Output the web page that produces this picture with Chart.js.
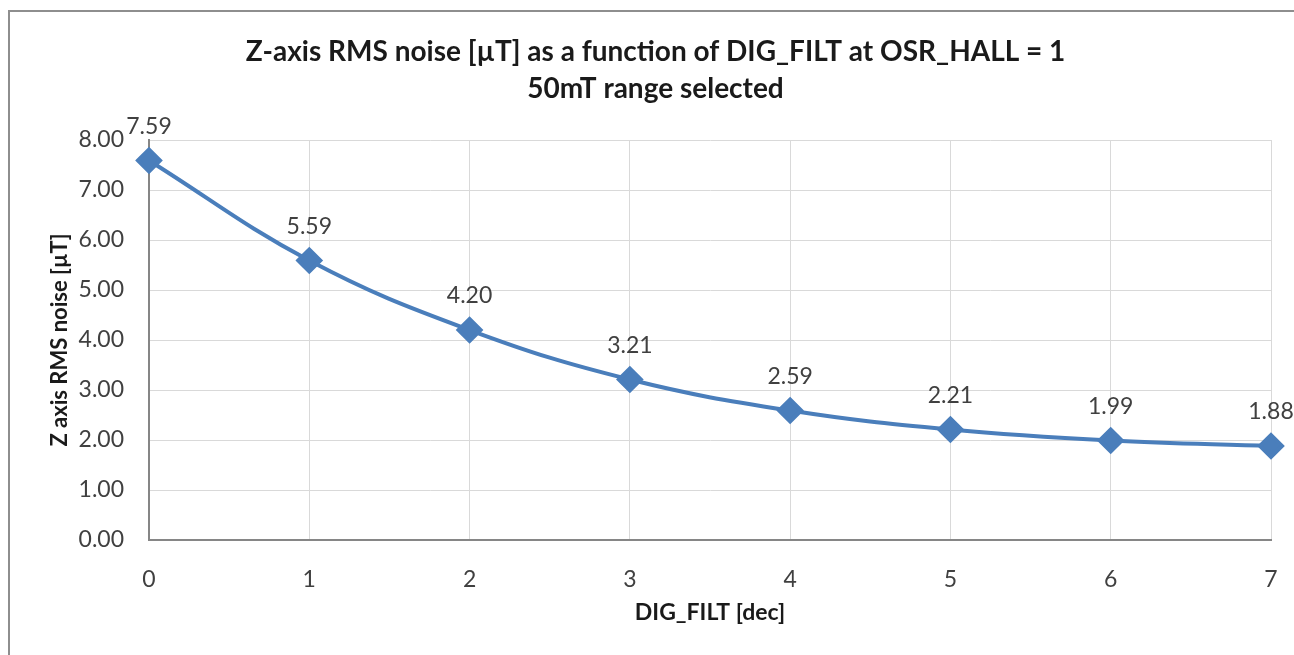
<!doctype html>
<html><head>
<meta charset="utf-8">
<title>Z-axis RMS noise</title>
<script src="https://cdn.jsdelivr.net/npm/chart.js"></script>
<style>
  body { margin: 0; background: #fff; overflow: hidden; }
  #frame { position: absolute; left: 8px; top: 10px; width: 1400px; height: 800px; border: 2px solid #8e8e8e; }
  #myChart { position: absolute; left: 0; top: 0; }
</style>
</head>
<body>
<div id="frame"></div>
<canvas id="myChart" width="1294" height="655"></canvas>
<script>
// datos
const digFilt = [0, 1, 2, 3, 4, 5, 6, 7];
const rmsNoise = [7.59, 5.59, 4.20, 3.21, 2.59, 2.21, 1.99, 1.88];
const yTicks = [0, 1, 2, 3, 4, 5, 6, 7, 8];

const FONT = 'Lato, "Open Sans", sans-serif';

// etiquetas de valor encima de cada punto
const etiquetas = {
  id: 'etiquetas',
  afterDatasetsDraw(chart) {
    const ctx = chart.ctx;
    const meta = chart.getDatasetMeta(0);
    ctx.save();
    ctx.font = '23px ' + FONT;
    ctx.fillStyle = '#404040';
    ctx.textAlign = 'center';
    ctx.textBaseline = 'middle';
    meta.data.forEach((p, i) => {
      ctx.fillText(rmsNoise[i].toFixed(2), p.x, p.y - 34);
    });
    ctx.restore();
  }
};

var ctx = document.getElementById('myChart');
var myChart = new Chart(ctx, {
  type: 'line',
  data: {
    datasets: [{
      label: 'RMS noise',
      data: digFilt.map((x, i) => ({x: x, y: rmsNoise[i]})),
      borderColor: '#4a7ebb',
      backgroundColor: '#4a7ebb',
      borderWidth: 4,
      tension: 0.4,
      pointStyle: 'rectRot',
      pointRadius: 11,
      pointHoverRadius: 11,
      clip: false
    }]
  },
  options: {
    responsive: false,
    animation: false,
    layout: { padding: { left: 40, right: 23, top: 10, bottom: 0 } },
    plugins: {
      legend: { display: false },
      tooltip: { enabled: false },
      title: {
        display: true,
        text: ['Z-axis RMS noise [\u00b5T] as a function of DIG_FILT at OSR_HALL = 1', '50mT range selected'],
        color: '#1a1a1a',
        font: { family: FONT, size: 28, weight: 'bold', lineHeight: 1.34 },
        padding: { top: 23, bottom: 32 }
      }
    },
    scales: {
      x: {
        type: 'linear',
        min: 0,
        max: 7,
        afterFit(scale) {
          scale.height = 115;
          scale.paddingLeft = 0;
          scale.paddingRight = 0;
        },
        ticks: { stepSize: 1, color: '#404040', font: { family: FONT, size: 23 }, padding: 26 },
        grid: { color: '#d9d9d9', drawTicks: false },
        border: { color: '#868686', width: 2 },
        title: {
          display: true,
          text: 'DIG_FILT [dec]',
          color: '#1a1a1a',
          font: { family: FONT, size: 23, weight: 'bold', lineHeight: 1.2 },
          padding: { top: 29, bottom: 29 }
        }
      },
      y: {
        min: 0,
        max: 8,
        afterFit(scale) { scale.width = 109; },
        afterBuildTicks(scale) { scale.ticks = yTicks.map(v => ({value: v})); },
        ticks: {
          color: '#404040',
          font: { family: FONT, size: 23 },
          padding: 25,
          callback: v => Number(v).toFixed(2)
        },
        grid: { color: '#d9d9d9', drawTicks: false },
        border: { color: '#868686', width: 2 },
        title: {
          display: true,
          text: 'Z axis RMS noise [\u00b5T]',
          color: '#1a1a1a',
          font: { family: FONT, size: 22, weight: 'bold', lineHeight: 1.2 },
          padding: { top: 7, bottom: 0 }
        }
      }
    }
  },
  plugins: [etiquetas]
});
</script>
</body></html>
